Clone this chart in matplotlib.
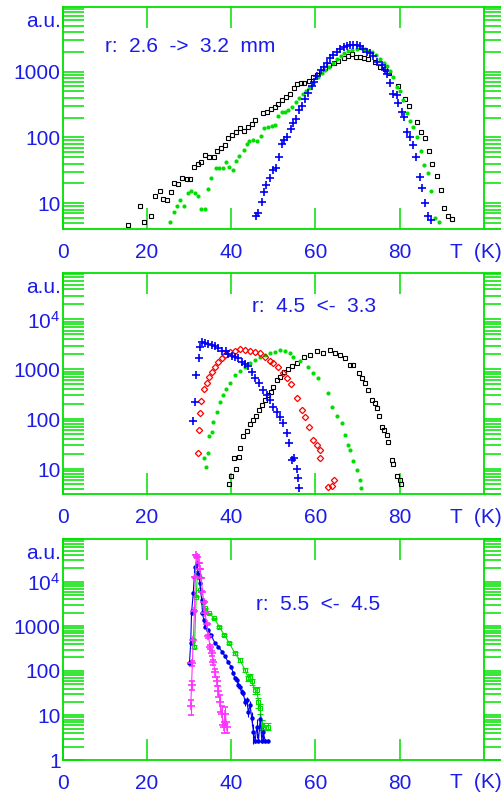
import numpy as np
import matplotlib.pyplot as plt

plt.rcParams['font.family'] = ['Liberation Sans', 'DejaVu Sans']
plt.rcParams['mathtext.fontset'] = 'custom'
plt.rcParams['mathtext.rm'] = 'Liberation Sans'

GREEN = '#00e000'
BLUE = '#0000f0'
TXT = '#1c1ce8'

# ---- panel 1: r 2.6 -> 3.2 mm
p1_black_x = [15.6, 18.4, 19.3, 21.0, 22.0, 23.0, 23.8, 24.7, 25.7, 26.4, 27.5, 28.4, 29.5, 30.2,
              31.1, 32.1, 32.9, 33.9, 34.8, 35.9, 36.6, 37.6, 38.6, 39.3, 40.2, 41.2, 42.2, 43.1,
              43.9, 44.9, 45.7, 47.6, 48.5, 49.4, 50.4, 51.2, 52.1, 53.0, 54.0, 55.0, 55.7, 56.5,
              57.4, 58.4, 59.4, 60.3, 61.3, 62.3, 63.3, 64.4, 65.5, 66.7, 67.7, 68.6, 69.6, 70.6,
              71.6, 72.6, 74.2, 75.4, 76.6, 77.6, 79.6, 81.3, 82.3, 84.1, 85.1, 86.1, 87.1, 87.8,
              88.8, 89.8, 90.6, 91.5, 92.5]
p1_black_y = [4.7, 9.1, 5.2, 6.5, 12.9, 15.2, 11.7, 11.2, 15, 20.5, 19.6, 24, 23.4, 23.4,
              35, 39, 43, 54, 50, 50, 62, 70, 77, 98, 108, 120, 138, 124,
              143, 160, 187, 235, 242, 270, 295, 318, 371, 417, 463, 565, 650, 666,
              673, 730, 840, 890, 1000, 1125, 1265, 1370, 1470, 1600, 1730, 1840, 1690, 1650,
              1600, 1540, 1420, 1190, 1090, 966, 605, 385, 303, 170, 123, 99, 62, 40,
              26, 16, 8.4, 6.5, 5.7]

p1_green_x = [25.5, 26.4, 27.2, 27.9, 28.9, 29.7, 30.4, 31.4, 32.1, 32.9, 33.9, 34.6, 35.3, 36.3,
              37.1, 38.1, 38.8, 39.5, 40.5, 41.2, 41.9, 43.0, 43.7, 44.3, 45.3, 46.2, 47.1, 47.9,
              48.7, 49.6, 50.4, 51.2, 52.1, 52.8, 53.6, 54.5, 55.4, 56.2, 57.0, 57.8, 58.6, 59.5,
              60.6, 61.5, 62.3, 63.3, 64.3, 65.2, 66.0, 66.9, 67.8, 68.8, 69.8, 70.9, 71.8, 72.6,
              73.5, 74.4, 75.4, 76.2, 77.0, 77.7, 78.5, 79.3, 80.1, 80.9, 81.7, 82.5, 83.3, 84.1,
              85.0, 85.8, 86.7, 87.5, 88.4, 89.4]
p1_green_y = [5.2, 7.3, 9.1, 11.2, 9.1, 14.2, 15.6, 14.2, 13, 8.3, 8.3, 16.3, 24, 34,
              34, 34, 42, 36, 32, 44, 53, 65, 79, 87, 93, 87, 107, 138,
              146, 149, 155, 209, 240, 247, 263, 290, 343, 400, 460, 516, 565, 666,
              822, 966, 1060, 1190, 1370, 1540, 1730, 1940, 2090, 2140, 2210, 2320, 2210, 2090,
              1970, 1790, 1540, 1370, 1220, 1035, 822, 590, 500, 371, 235, 181, 146, 100,
              62, 38, 28.5, 15.5, 5.9, 5.2]

p1_blue_x = [45.8, 46.5, 47.3, 47.8, 48.4, 49.2, 50.0, 50.7, 51.4, 52.0, 52.6, 53.3, 54.2, 54.8,
             55.4, 56.2, 56.9, 57.5, 58.3, 59.1, 59.8, 60.5, 61.3, 62.1, 62.8, 63.5, 64.3, 65.1,
             65.9, 66.7, 67.5, 68.2, 69.0, 69.8, 70.6, 71.4, 72.2, 73.0, 73.8, 74.6, 75.8, 76.6,
             77.1, 77.7, 78.5, 79.3, 79.7, 80.5, 81.1, 81.7, 82.5, 83.1, 83.8, 84.9, 85.4, 86.1,
             86.7, 87.5]
p1_blue_y = [6.4, 7.1, 10.5, 14.7, 19, 24.5, 31.5, 34, 51, 79, 90, 100, 136, 164,
             194, 263, 303, 391, 470, 605, 705, 860, 1060, 1190, 1370, 1600, 1790, 2000,
             2210, 2350, 2490, 2540, 2540, 2540, 2450, 2190, 2000, 1900, 1730, 1420, 1265, 1060,
             922, 666, 460, 442, 331, 247, 204, 123, 102, 77, 50, 25, 17, 10,
             6.3, 5.5]

# ---- panel 2: r 4.5 <- 3.3
p2_blue_x = [31.0, 31.4, 31.6, 32.4, 32.6, 33.0, 33.8, 34.6, 35.4, 36.2, 37.0, 37.8, 38.7, 39.3,
             40.1, 40.9, 41.7, 42.5, 43.3, 44.1, 44.9, 45.7, 46.6, 47.6, 48.5, 49.2, 50.0, 50.8,
             51.6, 52.4, 53.2, 53.8, 54.5, 55.0, 55.7, 56.0, 56.2]
p2_blue_y = [92, 224, 770, 1710, 2840, 3570, 3400, 3230, 3070, 2940, 2640, 2360, 2360, 2030,
             1850, 1790, 1660, 1420, 1300, 1150, 900, 660, 525, 385, 303, 242, 178, 141,
             112, 83, 52, 33, 15.2, 16.3, 10.2, 6.5, 4.1]

p2_red_x = [32.1, 32.4, 32.6, 32.9, 33.6, 34.2, 34.8, 35.4, 36.2, 37.0, 37.8, 38.6, 39.7, 40.9,
            42.1, 43.3, 44.5, 45.7, 46.9, 48.1, 49.2, 50.0, 51.2, 52.4, 53.2, 54.3, 55.6, 56.8,
            57.6, 58.6, 59.5, 60.3, 61.0, 61.1, 63.1, 63.9, 64.5]
p2_red_y = [20.6, 60, 135, 230, 398, 525, 705, 890, 1130, 1420, 1660, 1930, 2260, 2360,
            2520, 2440, 2360, 2260, 2090, 1790, 1490, 1320, 1130, 830, 660, 500, 263, 151,
            112, 71, 38, 30, 24, 16.3, 4.4, 4.6, 6.0]

p2_green_x = [33.6, 34.0, 34.4, 34.8, 35.4, 35.8, 36.6, 37.4, 38.1, 38.9, 39.7, 40.9, 42.1, 43.3,
              44.5, 45.7, 46.9, 48.1, 49.2, 50.4, 51.6, 52.8, 54.0, 54.8, 56.4, 58.3, 59.5, 60.7,
              62.9, 63.9, 65.1, 66.3, 67.1, 67.7, 68.2, 69.0, 69.8, 70.6, 70.9]
p2_green_y = [17, 11.1, 20.6, 45, 56, 89, 141, 224, 303, 398, 525, 770, 940, 1130,
              1320, 1540, 1740, 1930, 2090, 2260, 2440, 2360, 2150, 1790, 1500, 1130, 850, 660,
              331, 178, 115, 83, 48, 31, 24, 14.5, 9.6, 6, 4.2]

p2_black_x = [39.4, 40.0, 40.7, 41.1, 41.9, 42.0, 42.9, 43.7, 44.5, 45.3, 45.8, 46.6, 47.4, 48.1,
              48.8, 49.5, 50.0, 50.8, 51.6, 52.6, 53.6, 54.4, 55.6, 57.2, 58.7, 60.3, 61.9, 63.5,
              64.7, 65.9, 67.1, 68.2, 69.0, 70.3, 71.0, 71.8, 72.6, 73.4, 74.2, 74.7, 75.2, 75.8,
              76.4, 77.0, 77.3, 78.1, 78.5, 79.3, 80.0, 80.3]
p2_black_y = [5.1, 7.4, 16.4, 10, 17.8, 26, 45, 58, 79, 96, 115, 151, 190, 240,
              305, 355, 447, 610, 705, 890, 1000, 1160, 1320, 1790, 1930, 2360, 2090, 2440,
              2150, 1930, 1660, 1220, 1220, 830, 660, 525, 385, 240, 209, 166, 115, 71,
              60, 48, 35, 15, 12.6, 7.2, 6.0, 5.0]

# ---- panel 3: r 5.5 <- 4.5
p3_mag_x = [30.4, 30.6, 30.8, 31.0, 31.3, 31.5, 31.7, 32.0, 32.3, 32.6, 32.9, 33.2, 33.5, 33.8,
            34.2, 34.6, 35.0, 35.4, 35.8, 36.2, 36.6, 37.0, 37.4, 37.8, 38.2, 38.6, 39.0]
p3_mag_y = [16, 48, 148, 480, 2200, 12500, 40000, 35000, 26000, 19000, 12000, 6000, 3500, 2000,
            1100, 600, 350, 250, 155, 92, 60, 36, 20, 11, 5.6, 10.5, 5.6]
p3_mag_err = [6, 10, 20, 40, 90, 200, 400, 400, 300, 250, 200, 150, 100, 80,
              60, 45, 35, 30, 22, 18, 14, 10, 8, 5, 1.5, 5, 1.5]

p3_blue_x = [30.1, 30.4, 30.6, 31.0, 31.4, 31.8, 32.2, 32.6, 33.0, 33.2, 33.5, 33.9, 34.6, 35.2,
             36.2, 37.0, 37.8, 38.6, 39.2, 40.0, 40.5, 40.9, 41.3, 41.7, 42.1, 42.5, 42.9, 43.3,
             43.7, 44.1, 44.5, 44.9, 45.3, 45.7, 46.1, 46.5, 46.9, 47.3, 47.6, 48.1, 48.8]
p3_blue_y = [148, 417, 1960, 5500, 21700, 26000, 15400, 9200, 3900, 1960, 1380, 970, 830, 635,
             417, 350, 271, 210, 161, 124, 89, 68, 63, 48, 44, 34, 32, 20,
             22, 12, 17, 8.7, 4.3, 2.7, 5.6, 2.7, 8.3, 2.7, 4.3, 2.7, 2.7]
p3_blue_err = [12, 20, 45, 70, 150, 160, 120, 90, 60, 45, 35, 30, 28, 25,
               20, 18, 16, 14, 12, 11, 9, 8, 8, 7, 6, 6, 5, 4,
               4, 3, 4, 3, 2, 0.3, 2.5, 0.3, 3, 0.3, 1.5, 0.3, 0.3]

p3_green_x = [31.3, 31.7, 32.0, 32.4, 32.7, 33.3, 33.9, 34.8, 36.0, 37.2, 38.4, 39.6, 40.9, 42.1,
              43.3, 44.1, 44.5, 44.9, 45.7, 46.1, 46.5, 46.9, 47.3, 47.6, 48.8]
p3_green_y = [350, 4600, 15400, 13000, 6500, 3560, 2520, 1960, 1500, 970, 635, 417, 246, 176,
              105, 68, 74, 58, 37, 37, 20, 14.5, 6.2, 5.6, 5.6]
p3_green_err = [25, 90, 160, 150, 100, 75, 60, 55, 48, 38, 30, 25, 20, 16,
                12, 10, 10, 9, 7, 7, 5, 4, 1.5, 1.0, 1.0]

tick_labels = {1: '1', 10: '10', 100: '100', 1000: '1000', 10000: r'$\mathregular{10^4}$'}
x_ticks = [0, 20, 40, 60, 80]

fig = plt.figure(figsize=(5.02, 7.98), dpi=100)
W, H = 502.0, 798.0


def make_axes(top_px, bot_px, ylim, text, text_x, text_y):
    ax = fig.add_axes([62.7 / W, 1 - bot_px / H, 442.1 / W, (bot_px - top_px) / H])
    ax.set_xlim(0, 105)
    ax.set_yscale('log')
    ax.set_ylim(*ylim)
    for s in ax.spines.values():
        s.set_color(GREEN)
        s.set_linewidth(1.3)
    ax.axvline(100, color=GREEN, lw=1.3)
    ax.set_yticks([v for v in tick_labels if ylim[0] <= v <= ylim[1]])
    ax.set_yticklabels([tick_labels[v] for v in tick_labels if ylim[0] <= v <= ylim[1]])
    minors = [m * 10.0 ** d for d in range(-1, 6) for m in range(2, 10)]
    ax.set_yticks([v for v in minors if ylim[0] <= v <= ylim[1]], minor=True)
    ax.set_xticks(x_ticks)
    ax.set_xticklabels([str(v) for v in x_ticks])
    ax.tick_params(which='both', direction='in', length=15, width=1.1, color=GREEN,
                   left=True, right=True, top=True, bottom=True)
    ax.tick_params(axis='y', which='major', labelsize=15, labelcolor=TXT, pad=1.5)
    ax.tick_params(axis='x', labelsize=15, labelcolor=TXT, pad=10)
    ax.text(-2.0 / 442, 1 - 14.5 / (bot_px - top_px), 'a.u.', transform=ax.transAxes,
            ha='right', va='center', fontsize=15, color=TXT)
    ax.text(92.0, -23.0 / (bot_px - top_px), 'T  (K)', transform=ax.get_xaxis_transform(),
            ha='left', va='center', fontsize=15, color=TXT, clip_on=False)
    ax.text(text_x, text_y, text, ha='left', va='center', fontsize=15, color=TXT)
    return ax


ax1 = make_axes(7, 229, (4.06, 9620), 'r:  2.6  ->  3.2  mm', 10.0, 2450)
ax1.plot(p1_black_x, p1_black_y, 's', ms=3.2, mfc='none', mec='black', mew=0.8)
ax1.plot(p1_green_x, p1_green_y, 'o', ms=3.0, color='#00dd00', mew=0)
ax1.plot(p1_blue_x, p1_blue_y, '+', ms=5.5, color=BLUE, mew=1.2)

ax2 = make_axes(272.7, 494.3, (3.11, 86700), 'r:  4.5  <-  3.3', 44.9, 18500)
ax2.plot(p2_black_x, p2_black_y, 's', ms=3.2, mfc='none', mec='black', mew=0.8)
ax2.plot(p2_green_x, p2_green_y, 'o', ms=3.0, color='#00dd00', mew=0)
ax2.plot(p2_red_x, p2_red_y, 'D', ms=3.2, mfc='none', mec='#ff0000', mew=0.9)
ax2.plot(p2_blue_x, p2_blue_y, '+', ms=5.5, color=BLUE, mew=1.2)

ax3 = make_axes(539, 760, (1.0, 90600), 'r:  5.5  <-  4.5', 45.8, 3100)
ax3.errorbar(p3_green_x, p3_green_y, yerr=p3_green_err, fmt='-s', ms=3.2, mfc='none',
             mec='#00dd00', color='#00dd00', lw=0.8, mew=0.8, elinewidth=0.8, capsize=2.5)
ax3.errorbar(p3_blue_x, p3_blue_y, yerr=p3_blue_err, fmt='-o', ms=3.2, color=BLUE,
             lw=0.8, mew=0, elinewidth=0.8, capsize=2.5)
ax3.errorbar(p3_mag_x, p3_mag_y, yerr=p3_mag_err, fmt='-+', ms=6, color='#ff33ff',
             lw=0.8, mew=1.2, elinewidth=0.8, capsize=2.5)

fig.savefig('out.png', dpi=100)
